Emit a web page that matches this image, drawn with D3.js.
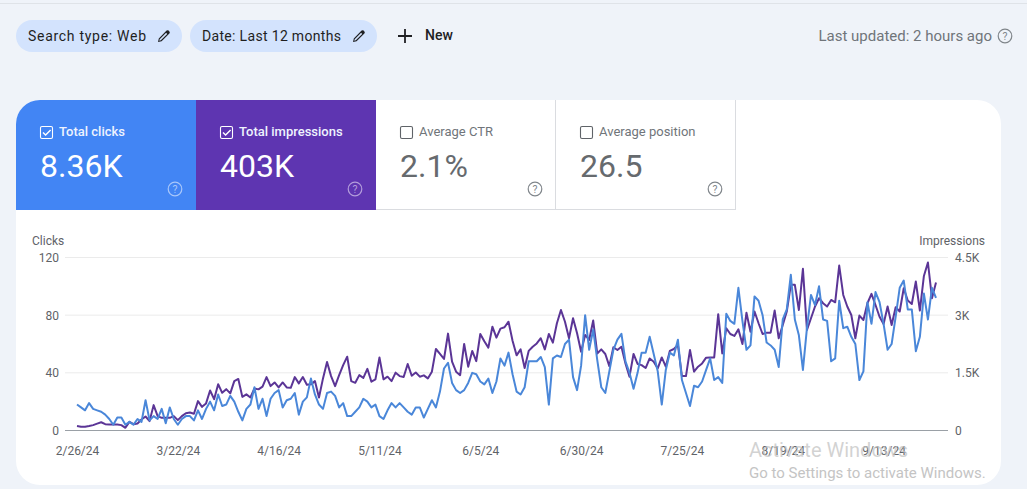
<!DOCTYPE html>
<html><head><meta charset="utf-8">
<script src="https://cdn.jsdelivr.net/npm/d3@7"></script>
<style>
html,body{margin:0;padding:0;background:#eff3f9;overflow:hidden}
svg{display:block}
text{font-family:Roboto,"Noto Sans",sans-serif}
</style></head><body><div id="c"></div>
<script>
const startDate = "2024-02-26";
const xTickLabels = ["2/26/24","3/22/24","4/16/24","5/11/24","6/5/24","6/30/24","7/25/24","8/19/24","9/13/24"];
const clickTicks = [0,40,80,120];
const impressionTicks = [0,1500,3000,4500];
const clicks = [18,16,14,19,15,14,13,11,8,4,9,9,4,6,4,8,6,21,7,10,8,15,5,16,8,4,8,10,10,7,14,8,15,20,14,25,17,18,24,20,13,7,15,18,30,15,22,10,22,26,28,16,21,22,26,11,20,23,36,25,18,15,26,27,24,16,19,10,10,13,16,22,20,16,18,10,8,14,19,16,19,16,13,11,16,16,9,15,21,16,27,43,47,33,28,26,28,33,40,39,34,32,36,26,34,50,45,54,39,27,25,30,48,48,48,51,44,18,50,52,51,60,63,37,28,45,80,56,70,49,30,26,41,56,63,67,48,40,29,40,54,54,65,53,41,18,42,54,52,63,35,26,17,31,30,34,42,50,35,37,33,81,76,74,99,76,56,59,93,90,80,61,59,56,44,77,84,108,77,66,42,71,94,87,100,77,76,48,50,90,71,72,65,60,35,41,89,74,96,89,74,56,60,79,99,104,84,84,55,65,95,77,99,92];
const impressions = [115,95,95,115,140,180,215,165,155,155,155,140,70,225,165,180,285,365,245,660,375,330,330,330,375,270,375,450,470,435,765,615,705,1040,815,1205,980,1075,965,1285,1340,875,940,860,1095,1070,1140,1390,1155,1250,1120,1250,1120,1110,1390,1225,1390,1190,1200,1285,860,1355,1780,1415,1155,1440,1700,1920,1285,1240,1440,1370,1605,1270,1330,1900,1330,1400,1285,1505,1415,1390,1730,1425,1510,1400,1435,1355,1530,2120,1990,1860,2520,1790,1530,1440,2250,1660,2070,1805,2510,2320,2155,2700,2415,2650,2685,2830,2335,1955,2110,1625,2070,2180,2265,2400,2110,2510,2285,2790,3135,2830,2400,2920,2530,2050,2485,2355,2860,2005,2110,1990,1675,2165,2095,2180,1745,1400,1990,1730,1700,1625,1875,1790,1615,1900,1660,2070,2120,2225,1415,1415,2095,1530,1660,1745,1895,1900,1900,3025,2005,2660,2510,2460,2630,2250,3065,2570,3095,2790,2510,2545,2545,3120,2400,2745,3095,3790,3790,3135,4205,2615,2920,3225,3440,3310,3225,3395,3335,4290,3525,3225,3005,2400,2990,2875,3310,3555,3265,2960,2770,3225,2745,3205,3095,3700,3380,3290,3875,3120,4020,4370,3440,3850];
const tiles = [
  {label:"Total clicks", value:"8.36K", on:true, bg:"#4285f4"},
  {label:"Total impressions", value:"403K", on:true, bg:"#5e35b1"},
  {label:"Average CTR", value:"2.1%", on:false, bg:"#ffffff"},
  {label:"Average position", value:"26.5", on:false, bg:"#ffffff"}
];
const chips = [
  {label:"Search type: Web", x:16, w:166, tw:118},
  {label:"Date: Last 12 months", x:190, w:187, tw:139}
];

const W=1027,H=489;
const svg=d3.select("#c").append("svg").attr("width",W).attr("height",H);
svg.append("rect").attr("width",W).attr("height",H).attr("fill","#eff3f9");
svg.append("rect").attr("x",0).attr("y",3).attr("width",W).attr("height",1).attr("fill","#dfe3e8");

// chips
const pencil=(g,x,y)=>{
  g.append("path").attr("transform",`translate(${x},${y})`)
   .attr("d","M-6,6 L-5.2,2.4 L2.6,-5.4 Q3.6,-6.3 4.6,-5.4 L5.4,-4.6 Q6.3,-3.6 5.4,-2.6 L-2.4,5.2 Z M-4.3,3.2 L-4.7,4.7 L-3.2,4.3 L3.2,-2.1 L2.1,-3.2 Z")
   .attr("fill","#202124").attr("fill-rule","evenodd");
};
chips.forEach(c=>{
  svg.append("rect").attr("x",c.x).attr("y",20).attr("width",c.w).attr("height",32).attr("rx",16).attr("fill","#d3e3fd");
  svg.append("text").attr("x",c.x+12).attr("y",41).attr("font-size",14).attr("textLength",c.tw).attr("lengthAdjust","spacing").attr("fill","#1f1f1f").text(c.label);
  pencil(svg,c.x+c.w-18,36);
});
svg.append("path").attr("d","M398,36H412M405,29V43").attr("stroke","#202124").attr("stroke-width",1.8).attr("fill","none");
svg.append("text").attr("x",425).attr("y",40).attr("font-size",14).attr("font-weight",500).attr("fill","#202124").text("New");
svg.append("text").attr("x",992).attr("y",41).attr("text-anchor","end").attr("font-size",15).attr("fill","#70757a").text("Last updated: 2 hours ago");

const help=(x,y,col)=>{
  svg.append("circle").attr("cx",x).attr("cy",y).attr("r",6.8).attr("fill","none").attr("stroke",col).attr("stroke-width",1.2);
  svg.append("text").attr("x",x).attr("y",y+3.7).attr("text-anchor","middle").attr("font-size",10.5).attr("fill",col).text("?");
};
help(1005,36,"#80868b");

// card
svg.append("rect").attr("x",16).attr("y",100).attr("width",985).attr("height",385).attr("rx",24).attr("fill","#ffffff");

// tiles
const tw=180,tx=i=>16+i*tw;
tiles.forEach((t,i)=>{
  const x=tx(i);
  if(i===0){
    svg.append("path").attr("d",`M${x},210V124A24,24 0 0 1 ${x+24},100H${x+tw}V210Z`).attr("fill",t.bg);
  }else{
    svg.append("rect").attr("x",x).attr("y",100).attr("width",tw).attr("height",110).attr("fill",t.bg);
  }
  if(!t.on){
    svg.append("path").attr("d",`M${x},209.5H${x+tw-0.5}M${x+tw-0.5},100V210`).attr("fill","none").attr("stroke","#dadce0").attr("stroke-width",1);
  }
  svg.append("rect").attr("x",x+24.5).attr("y",126.5).attr("width",12).attr("height",12).attr("rx",1.5)
    .attr("fill","none").attr("stroke",t.on?"#ffffff":"#5f6368").attr("stroke-width",1.1);
  if(t.on) svg.append("path").attr("d",`M${x+27},132.5l2.6,2.6l5,-5`).attr("fill","none").attr("stroke","#fff").attr("stroke-width",1.4);
  svg.append("text").attr("x",x+43).attr("y",136).attr("font-size",13).attr("font-weight",t.on?500:400).attr("fill",t.on?"#eef3fe":"#70757a").text(t.label);
  svg.append("text").attr("x",x+24).attr("y",177).attr("font-size",32).attr("fill",t.on?"#ffffff":"#666a6e").text(t.value);
  help(x+159,189,t.on?(i===0?"#a8c7fa":"#b39ddb"):"#80868b");
});

// chart
const x0=77,x1=936,yB=430.5,yT=257.5,gL=65,gR=948;
const parse=d3.utcParse("%Y-%m-%d");
const start=parse(startDate);
const dates=clicks.map((_,i)=>d3.utcDay.offset(start,i));
const xS=d3.scaleUtc().domain([dates[0],dates[dates.length-1]]).range([x0,x1]);
const yC=d3.scaleLinear().domain([0,120]).range([yB,yT]);
const yI=d3.scaleLinear().domain([0,4500]).range([yB,yT]);

// gridlines
svg.append("g").selectAll("line").data(clickTicks.slice(1)).join("line")
  .attr("x1",gL).attr("x2",gR).attr("y1",d=>yC(d)).attr("y2",d=>yC(d)).attr("stroke","#ebebeb");
svg.append("line").attr("x1",gL).attr("x2",gR).attr("y1",yB).attr("y2",yB).attr("stroke","#9aa0a6").attr("stroke-width",1);

const style=g=>{g.select(".domain").remove();g.selectAll("line").remove();
  g.selectAll("text").attr("font-size",12).attr("fill","#5f6368").attr("font-family","Roboto");};

svg.append("g").attr("transform",`translate(59,0)`)
  .call(d3.axisLeft(yC).tickValues(clickTicks).tickSize(0).tickPadding(0)).call(style);
const fmtI=d=>d===0?"0":(d/1000)+"K";
svg.append("g").attr("transform",`translate(955,0)`)
  .call(d3.axisRight(yI).tickValues(impressionTicks).tickFormat(fmtI).tickSize(0).tickPadding(0)).call(style);
const tickDates=xTickLabels.map((_,i)=>d3.utcDay.offset(start,i*25));
svg.append("g").attr("transform",`translate(0,${yB})`)
  .call(d3.axisBottom(xS).tickValues(tickDates).tickFormat((d,i)=>xTickLabels[i]).tickSize(0).tickPadding(16)).call(style);

svg.append("text").attr("x",32).attr("y",245).attr("font-size",12).attr("fill","#5f6368").text("Clicks");
svg.append("text").attr("x",985).attr("y",245).attr("text-anchor","end").attr("font-size",12).attr("fill","#5f6368").text("Impressions");

const lineI=d3.line().x((d,i)=>xS(dates[i])).y(d=>yI(d));
const lineC=d3.line().x((d,i)=>xS(dates[i])).y(d=>yC(d));
svg.append("path").datum(impressions).attr("d",lineI).attr("fill","none").attr("stroke","#5b3596").attr("stroke-width",2).attr("stroke-linejoin","round");
svg.append("path").datum(clicks).attr("d",lineC).attr("fill","none").attr("stroke","#4a87d9").attr("stroke-width",2).attr("stroke-linejoin","round");

// watermark
svg.append("text").attr("x",749).attr("y",457).attr("font-size",20).attr("font-family","'Open Sans',sans-serif").attr("fill","#c4c4c4").attr("fill-opacity",0.75).text("Activate Windows");
svg.append("text").attr("x",749).attr("y",478).attr("font-size",15).attr("font-family","'Open Sans',sans-serif").attr("fill","#c4c4c4").text("Go to Settings to activate Windows.");
</script></body></html>
